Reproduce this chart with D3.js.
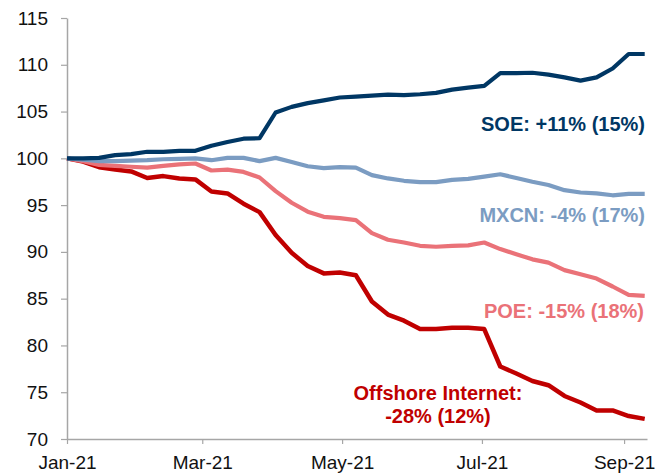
<!DOCTYPE html>
<html>
<head>
<meta charset="utf-8">
<script src="https://cdn.jsdelivr.net/npm/d3@7"></script>
<style>
  body { margin: 0; background: #fff; }
  #chart text { font-family: "Liberation Sans", Arial, sans-serif; }
</style>
</head>
<body>
<div id="chart"></div>
<script>

// weekly closes, rebased to 100 at 1 Jan 2021
var soe = [100, 100, 100.05, 100.35, 100.45, 100.7, 100.7, 100.8, 100.8, 101.35,
  101.75, 102.1, 102.15, 104.9, 105.5, 105.9, 106.2, 106.5, 106.6, 106.7,
  106.8, 106.75, 106.85, 107.0, 107.35, 107.55, 107.75, 109.1, 109.1, 109.15,
  108.95, 108.65, 108.3, 108.65, 109.6, 111.15, 111.15];

var mxcn = [100, 99.85, 99.7, 99.7, 99.75, 99.8, 99.9, 99.95, 100, 99.8,
  100.05, 100.05, 99.7, 100.05, 99.6, 99.15, 98.95, 99.05, 99.0, 98.2,
  97.85, 97.6, 97.45, 97.45, 97.7, 97.8, 98.05, 98.3, 97.9, 97.5,
  97.15, 96.6, 96.35, 96.25, 96.05, 96.2, 96.2];

var poe = [100, 99.7, 99.3, 99.2, 99.1, 99.0, 99.2, 99.35, 99.45, 98.7,
  98.8, 98.55, 97.95, 96.5, 95.25, 94.3, 93.75, 93.6, 93.4, 92.0,
  91.3, 91.0, 90.65, 90.55, 90.65, 90.7, 91.0, 90.3, 89.75, 89.2,
  88.85, 88.05, 87.6, 87.15, 86.3, 85.4, 85.3];

var offshore = [100, 99.65, 99.05, 98.8, 98.6, 97.9, 98.1, 97.85, 97.75, 96.45,
  96.25, 95.15, 94.25, 91.8, 89.9, 88.5, 87.7, 87.8, 87.5, 84.7,
  83.3, 82.65, 81.75, 81.75, 81.9, 81.9, 81.75, 77.75, 77.0, 76.2,
  75.75, 74.6, 73.9, 73.05, 73.05, 72.45, 72.15];

var yTicks = [70, 75, 80, 85, 90, 95, 100, 105, 110, 115];
var xTicks = ["2021-01-01", "2021-03-01", "2021-05-01", "2021-07-01", "2021-09-01"];

var labelsSoe      = ["SOE: +11% (15%)"];
var labelsMxcn     = ["MXCN: -4% (17%)"];
var labelsPoe      = ["POE: -15% (18%)"];
var labelsOffshore = ["Offshore Internet:", "-28% (12%)"];


var parse = d3.timeParse("%Y-%m-%d");
var start = parse("2021-01-01");
var dates = soe.map(function(d,i){ return d3.timeDay.offset(start, 7*i); });

var width  = 658;
var height = 474;

var x = d3.scaleTime()
  .domain([start, parse("2021-09-11")])
  .range([67, 647]);

var y = d3.scaleLinear()
  .domain([70, 115])
  .range([439, 18]);

var svg = d3.select("#chart")
  .append("svg")
    .attr("width", width)
    .attr("height", height);

//......................... Axes ............................
var yAxis = d3.axisLeft(y)
  .tickValues(yTicks)
  .tickSize(6)
  .tickSizeOuter(0)
  .tickPadding(13);

var xAxis = d3.axisBottom(x)
  .tickValues(xTicks.map(parse))
  .tickFormat(d3.timeFormat("%b-%y"))
  .tickSize(5)
  .tickSizeOuter(0)
  .tickPadding(12);

var gy = svg.append("g")
  .attr("transform", "translate(67,0)")
  .call(yAxis);

var gx = svg.append("g")
  .attr("transform", "translate(0,439)")
  .call(xAxis);

[gx, gy].forEach(function(g){
  g.select(".domain").attr("stroke", "#a6a6a6").attr("stroke-width", 1.5);
  g.selectAll(".tick line").attr("stroke", "#a6a6a6").attr("stroke-width", 1.2);
  g.selectAll(".tick text")
    .attr("fill", "#111")
    .style("font-size", "19px");
});
//-----------------------------------------------------------


//......................... Lines ...........................
var line = d3.line()
  .x(function(d,i){ return x(dates[i]); })
  .y(function(d){ return y(d); });

var series = [
  { values: offshore, color: "#c00000", width: 4.5, labels: labelsOffshore },
  { values: poe,      color: "#ea7278", width: 4.2, labels: labelsPoe },
  { values: mxcn,     color: "#7b9cc2", width: 4.2, labels: labelsMxcn },
  { values: soe,      color: "#003764", width: 4.2, labels: labelsSoe }
];

svg.append("g")
  .attr("class", "lines")
  .selectAll("path")
  .data(series)
  .enter()
  .append("path")
    .attr("d", function(d){ return line(d.values); })
    .attr("fill", "none")
    .attr("stroke", function(d){ return d.color; })
    .attr("stroke-width", function(d){ return d.width; })
    .attr("stroke-linejoin", "round");
//-----------------------------------------------------------


//......................... Labels ..........................
function addLabel(s, xPos, yPos, anchor){
  var t = svg.append("text")
    .attr("x", xPos)
    .attr("y", yPos)
    .attr("text-anchor", anchor)
    .attr("fill", s.color)
    .style("font-size", "20px")
    .style("font-weight", "bold");
  s.labels.forEach(function(l, i){
    t.append("tspan")
      .attr("x", xPos)
      .attr("dy", i == 0 ? 0 : 23)
      .text(l);
  });
}

addLabel(series[3], 645, 131, "end");
addLabel(series[2], 645, 222, "end");
addLabel(series[1], 644, 318, "end");
addLabel(series[0], 438, 400, "middle");
//-----------------------------------------------------------

</script>
</body>
</html>
